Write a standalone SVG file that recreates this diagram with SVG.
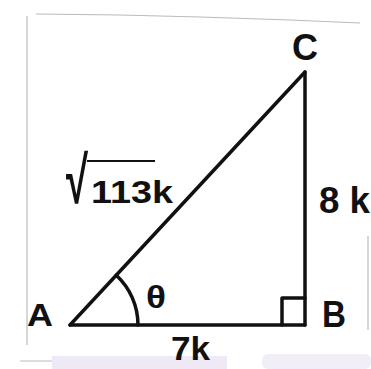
<svg xmlns="http://www.w3.org/2000/svg" width="371" height="369" viewBox="0 0 371 369">
<style>
.e{stroke:#111;stroke-width:3.5;fill:none;stroke-linecap:round;stroke-linejoin:round}
.t{font-family:"Liberation Sans",Arial,sans-serif;font-weight:bold;fill:#111}
.f{stroke:#bbb;stroke-width:1.2;fill:none}
</style>
<rect width="371" height="369" fill="#fff"/>
<g id="frame">
<path class="f" d="M36 14 L120 15 L200 17 L290 20 L360 23"/>
<path class="f" d="M27 16 L27 345"/>
<path class="f" d="M20 361 L75 361"/>
<path class="f" d="M368 236 L368 330"/>
<rect x="52" y="356" width="175" height="13" fill="#efe9f6"/>
<rect x="262" y="354" width="109" height="15" rx="6" fill="#f2eef8"/>
</g>
<g id="connectors">
<line class="e" x1="70" y1="325" x2="305" y2="325"/>
<line class="e" x1="305" y1="325" x2="305" y2="72"/>
<line class="e" x1="70" y1="325" x2="305" y2="72"/>
<path class="e" d="M138 325 A68 68 0 0 0 116.3 275.2" stroke-width="3"/>
<path class="e" d="M282 325 L282 298 L305 298" stroke-width="3"/>
</g>
<g id="A"><text class="t" x="27" y="326" font-size="32" textLength="26" lengthAdjust="spacingAndGlyphs">A</text></g>
<g id="B"><text class="t" x="322" y="327" font-size="36" textLength="24" lengthAdjust="spacingAndGlyphs">B</text></g>
<g id="C"><text class="t" x="292" y="60" font-size="36" textLength="26" lengthAdjust="spacingAndGlyphs">C</text></g>
<g id="theta"><text class="t" x="146" y="308" font-size="32" textLength="20" lengthAdjust="spacingAndGlyphs">θ</text></g>
<g id="lbl7k"><text class="t" x="171" y="360" font-size="34" textLength="39" lengthAdjust="spacingAndGlyphs">7k</text></g>
<g id="lbl8k"><text class="t" x="319" y="213" font-size="36" textLength="51" lengthAdjust="spacingAndGlyphs">8 k</text></g>
<g id="hyp">
<text class="t" transform="translate(66,203) scale(1,1.65)" x="0" y="0" font-size="40">√</text>
<text class="t" x="91" y="203" font-size="31" textLength="82" lengthAdjust="spacingAndGlyphs">113k</text>
<line x1="87" y1="161" x2="155" y2="161" stroke="#111" stroke-width="2"/>
</g>
</svg>
